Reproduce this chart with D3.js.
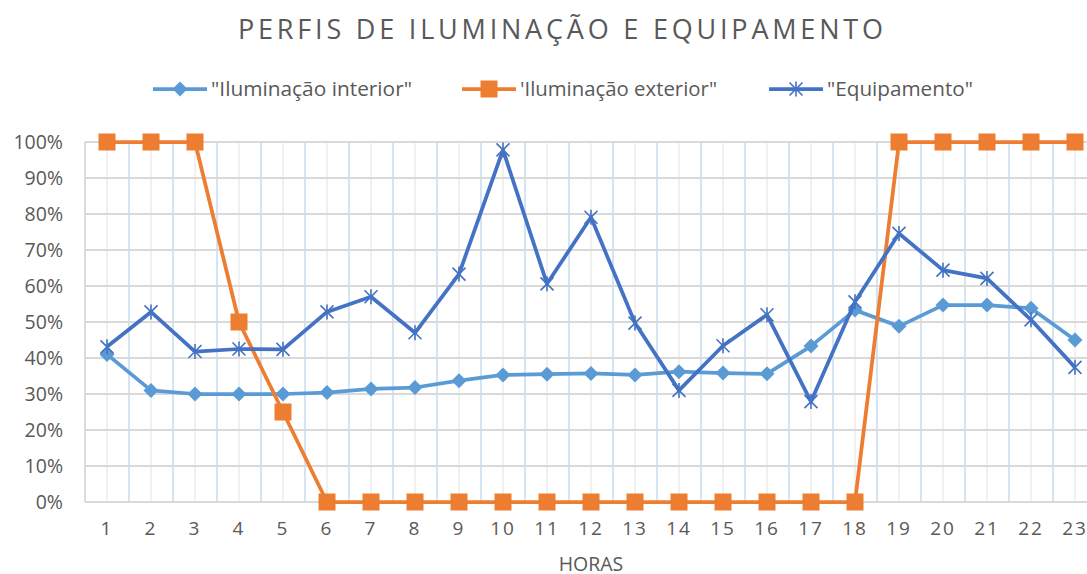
<!DOCTYPE html>
<html><head><meta charset="utf-8">
<script src="https://cdn.jsdelivr.net/npm/d3@7"></script>
<style>
body{margin:0;background:#fff;}
text{font-family:"Open Sans",sans-serif;fill:#595959;}
</style></head>
<body><svg id="c" width="1087" height="574"></svg>
<script>
const hours = ["1","2","3","4","5","6","7","8","9","10","11","12","13","14","15","16","17","18","19","20","21","22","23"];
const interior = [0.41,0.31,0.30,0.30,0.30,0.304,0.314,0.318,0.337,0.353,0.355,0.357,0.353,0.362,0.358,0.356,0.433,0.533,0.488,0.547,0.547,0.538,0.45];
const exterior = [1,1,1,0.5,0.25,0,0,0,0,0,0,0,0,0,0,0,0,0,1,1,1,1,1];
const equip = [0.431,0.528,0.418,0.425,0.424,0.528,0.57,0.47,0.633,0.978,0.606,0.791,0.497,0.31,0.434,0.52,0.279,0.556,0.746,0.644,0.621,0.506,0.374];
const yTicks = [0,0.1,0.2,0.3,0.4,0.5,0.6,0.7,0.8,0.9,1];
const seriesNames = ['"Iluminação interior"', "'Iluminação exterior\"", '"Equipamento"'];
const colors = ["#5b9bd5","#ed7d31","#4472c4"];

const svg = d3.select("#c");
const L = 85, R = 1097, T = 142, B = 502;
const x = d3.scaleBand().domain(hours).range([L,R]).padding(0);
const y = d3.scaleLinear().domain([0,1]).range([B,T]);
const cx = d => x(d) + x.bandwidth()/2;

// vertical grid: gray at category centers, blue at boundaries
svg.append("g").selectAll("line").data(hours).join("line")
  .attr("x1",d=>cx(d)).attr("x2",d=>cx(d)).attr("y1",T).attr("y2",B)
  .attr("stroke","#ededed").attr("stroke-width",1.5);
svg.append("g").selectAll("line").data(hours.slice(1)).join("line")
  .attr("x1",d=>x(d)).attr("x2",d=>x(d)).attr("y1",T).attr("y2",B)
  .attr("stroke","#c5dbf0").attr("stroke-width",1.5);
// horizontal grid
svg.append("g").selectAll("line").data(yTicks).join("line")
  .attr("x1",L).attr("x2",R).attr("y1",d=>y(d)).attr("y2",d=>y(d))
  .attr("stroke","#d9d9d9").attr("stroke-width",1.8);
// axis lines
svg.append("line").attr("x1",L).attr("x2",L).attr("y1",T).attr("y2",B).attr("stroke","#d9d9d9").attr("stroke-width",1.8);
svg.append("line").attr("x1",L).attr("x2",R).attr("y1",B).attr("y2",B).attr("stroke","#d9d9d9").attr("stroke-width",1.8);

// axes via d3
const yAx = svg.append("g").attr("transform",`translate(${L},0)`)
  .call(d3.axisLeft(y).tickValues(yTicks).tickFormat(d3.format(".0%")).tickSize(0).tickPadding(22));
yAx.select(".domain").remove();
yAx.selectAll("text").style("font-size","19.5px").style("font-family","'Open Sans',sans-serif").attr("fill","#595959");
const xAx = svg.append("g").attr("transform",`translate(0,${B})`)
  .call(d3.axisBottom(x).tickSize(0).tickPadding(20));
xAx.select(".domain").remove();
xAx.selectAll("text").style("font-size","19px").style("letter-spacing","2px").style("font-family","'Open Sans',sans-serif").attr("fill","#595959");

const line = d3.line().x((d,i)=>cx(hours[i])).y(d=>y(d));
const data = [interior, exterior, equip];

function marker(g, type, color, px, py){
  if(type===0){
    const s=7.5;
    g.append("path").attr("d",`M${px},${py-s}L${px+s},${py}L${px},${py+s}L${px-s},${py}Z`).attr("fill",color);
  } else if(type===1){
    g.append("rect").attr("x",px-8.5).attr("y",py-8.5).attr("width",17).attr("height",17).attr("fill",color);
  } else {
    const s=6.5;
    g.append("path").attr("d",`M${px-s},${py-s}L${px+s},${py+s}M${px-s},${py+s}L${px+s},${py-s}M${px},${py-s-1}L${px},${py+s+1}`)
      .attr("stroke",color).attr("stroke-width",1.6).attr("fill","none");
  }
}

data.forEach((arr,k)=>{
  svg.append("path").datum(arr).attr("d",line).attr("fill","none")
    .attr("stroke",colors[k]).attr("stroke-width",3.75).attr("stroke-linejoin","round");
  const g = svg.append("g");
  arr.forEach((v,i)=>marker(g,k,colors[k],cx(hours[i]),y(v)));
});

// title
svg.append("text").attr("x",238).attr("y",39)
  .attr("textLength",645).attr("lengthAdjust","spacing")
  .style("font-size","27px").text("PERFIS DE ILUMINAÇÃO E EQUIPAMENTO");
// x axis title
svg.append("text").attr("x",591).attr("y",571).attr("text-anchor","middle")
  .style("font-size","19.5px").text("HORAS");

// legend
const legX = [153, 462, 769];
const legW = [201, 197, 146];
seriesNames.forEach((n,k)=>{
  const g = svg.append("g");
  const lx = legX[k], ly = 89;
  g.append("line").attr("x1",lx).attr("x2",lx+54).attr("y1",ly).attr("y2",ly).attr("stroke",colors[k]).attr("stroke-width",3.75);
  marker(g,k,colors[k],lx+27,ly);
  g.append("text").attr("x",lx+58).attr("y",ly+7).style("font-size","20px")
    .attr("textLength",legW[k]).attr("lengthAdjust","spacingAndGlyphs").text(n);
});
</script></body></html>
